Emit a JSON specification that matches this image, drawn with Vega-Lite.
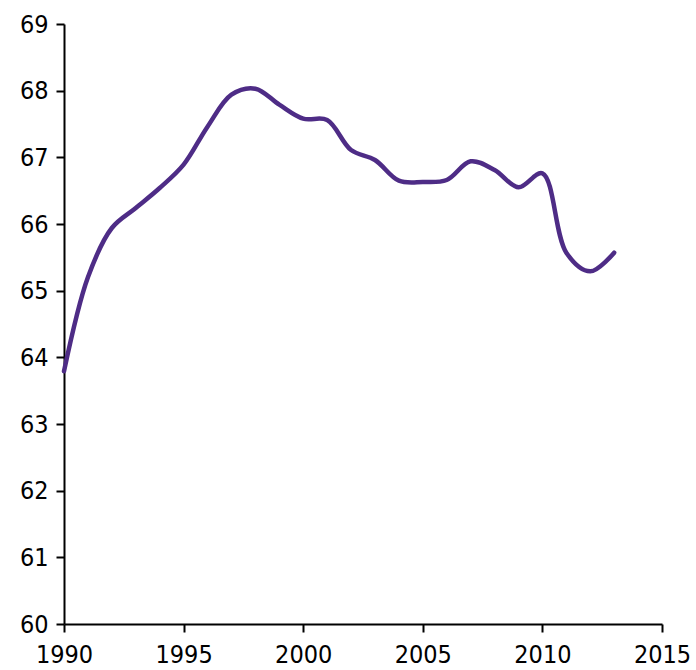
{
  "$schema": "https://vega.github.io/schema/vega-lite/v6.json",
  "width": 598,
  "height": 600,
  "autosize": {"type": "none"},
  "padding": {"left": 64, "top": 24, "right": 34, "bottom": 46},
  "background": "white",
  "config": {"view": {"stroke": null}},
  "data": {"values": [
    {"year": 1990, "value": 63.79},
    {"year": 1991, "value": 65.2},
    {"year": 1992, "value": 65.94},
    {"year": 1993, "value": 66.24},
    {"year": 1994, "value": 66.54},
    {"year": 1995, "value": 66.89},
    {"year": 1996, "value": 67.46},
    {"year": 1997, "value": 67.94},
    {"year": 1998, "value": 68.03},
    {"year": 1999, "value": 67.79},
    {"year": 2000, "value": 67.58},
    {"year": 2001, "value": 67.56},
    {"year": 2002, "value": 67.11},
    {"year": 2003, "value": 66.96},
    {"year": 2004, "value": 66.65},
    {"year": 2005, "value": 66.63},
    {"year": 2006, "value": 66.66},
    {"year": 2007, "value": 66.94},
    {"year": 2008, "value": 66.81},
    {"year": 2009, "value": 66.55},
    {"year": 2010, "value": 66.76},
    {"year": 2011, "value": 65.57},
    {"year": 2012, "value": 65.29},
    {"year": 2013, "value": 65.57}
  ]},
  "mark": {"type": "line", "interpolate": "catmull-rom", "color": "#4E2C86", "strokeWidth": 4.5, "strokeCap": "round"},
  "encoding": {
    "x": {
      "field": "year", "type": "quantitative",
      "scale": {"domain": [1990, 2015], "nice": false, "zero": false},
      "axis": {"values": [1990, 1995, 2000, 2005, 2010, 2015], "format": "d", "title": null, "grid": false,
        "domainColor": "black", "domainWidth": 2, "tickColor": "black", "tickWidth": 2, "tickSize": 8,
        "labelFont": "DejaVu Sans Condensed", "labelFontSize": 25, "labelColor": "black", "labelPadding": 10, "labelOverlap": false, "labelFlush": false, "labelBound": false}
    },
    "y": {
      "field": "value", "type": "quantitative",
      "scale": {"domain": [60, 69], "nice": false, "zero": false},
      "axis": {"values": [60, 61, 62, 63, 64, 65, 66, 67, 68, 69], "title": null, "grid": false,
        "domainColor": "black", "domainWidth": 2, "tickColor": "black", "tickWidth": 2, "tickSize": 8,
        "labelFont": "DejaVu Sans Condensed", "labelFontSize": 25, "labelColor": "black", "labelPadding": 8, "labelOverlap": false, "labelFlush": false, "labelBound": false}
    }
  }
}
